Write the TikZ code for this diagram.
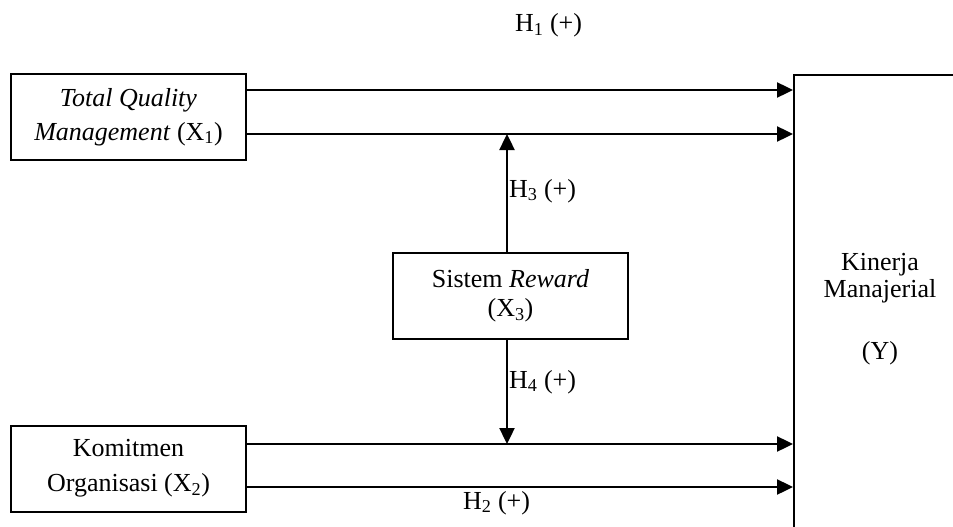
\documentclass[tikz,border=0pt]{standalone}
\usepackage{fontspec}
\setmainfont{Liberation Serif}
\usetikzlibrary{arrows.meta,calc}
\begin{document}
\begin{tikzpicture}[x=1pt,y=-1pt,
  txt/.style={font=\fontsize{26}{34}\selectfont, inner sep=0pt},
  varbox/.style={txt, draw, line width=2pt, minimum width=235pt, minimum height=86pt, align=center},
  arr/.style={line width=2.4pt, -{Triangle[length=16pt,width=15pt]}}]
\useasboundingbox (0,0) rectangle (953,527);
\fill[white] (0,0) rectangle (953,527);
\clip (0,0) rectangle (953,527);
% boxes
\node[varbox] (tqm) at (128.5,117) {\textit{Total Quality}\\\textit{Management} (X\textsubscript{1})};
\node[varbox, font=\fontsize{26}{35}\selectfont] (kom) at (128.5,468.5) {Komitmen\\Organisasi (X\textsubscript{2})};
\node[varbox, font=\fontsize{26}{29}\selectfont] (sis) at (510.5,296) {Sistem \textit{Reward}\\(X\textsubscript{3})};
\node[draw, line width=2pt, anchor=north west, minimum width=200pt, minimum height=500pt, inner sep=0pt] (ybox) at (793,74) {};
\node[txt, font=\fontsize{26}{27}\selectfont, align=center, anchor=north] (ylab) at (880,253) {Kinerja\\Manajerial\\[35pt](Y)};
% arrow levels
\coordinate (a1) at (0,90);
\coordinate (a2) at (0,134);
\coordinate (a3) at (0,444);
\coordinate (a4) at (0,487);
\coordinate (vx) at (507,0);
\draw[arr] (tqm.east |- a1) -- (ybox.west |- a1);
\draw[arr] (tqm.east |- a2) -- (ybox.west |- a2);
\draw[arr] (kom.east |- a3) -- (ybox.west |- a3);
\draw[arr] (kom.east |- a4) -- (ybox.west |- a4);
\draw[arr] (sis.north -| vx) -- (vx |- a2);
\draw[arr] (sis.south -| vx) -- (vx |- a3);
% labels
\node[txt, anchor=base west] (h1) at (515,32) {H\textsubscript{1} (+)};
\node[txt, anchor=base west] (h3) at (509,197) {H\textsubscript{3} (+)};
\node[txt, anchor=base west] (h4) at (509,388) {H\textsubscript{4} (+)};
\node[txt, anchor=base west] (h2) at (463,509) {H\textsubscript{2} (+)};
\end{tikzpicture}
\end{document}
